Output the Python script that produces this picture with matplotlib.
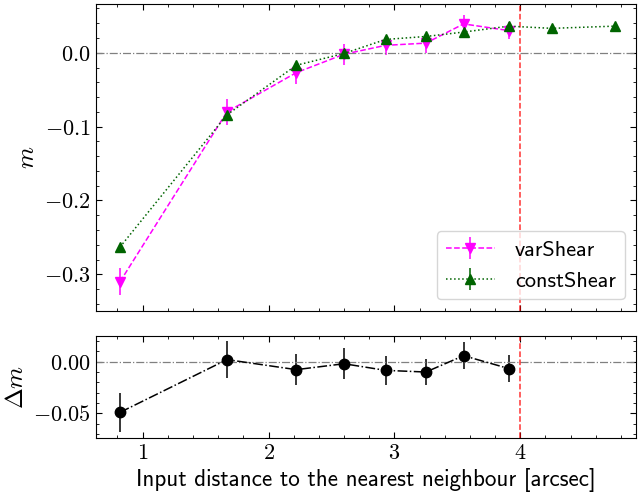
import matplotlib
matplotlib.use("Agg")
import matplotlib.pyplot as plt
from matplotlib.ticker import MultipleLocator, FormatStrFormatter
import numpy as np

plt.rcParams["mathtext.fontset"] = "cm"
plt.rcParams["font.size"] = 14

# nearest neighbour distance [arcsec]
dist_var = [0.82, 1.67, 2.22, 2.60, 2.93, 3.25, 3.55, 3.91]
m_var = [-0.310, -0.080, -0.027, -0.002, 0.010, 0.013, 0.039, 0.030]
m_var_err = [0.018, 0.018, 0.015, 0.014, 0.013, 0.013, 0.012, 0.012]

dist_const = [0.82, 1.67, 2.22, 2.60, 2.93, 3.25, 3.55, 3.91, 4.25, 4.75]
m_const = [-0.263, -0.084, -0.017, -0.001, 0.018, 0.022, 0.028, 0.036, 0.033, 0.036]
m_const_err = [0.004, 0.004, 0.004, 0.004, 0.004, 0.004, 0.004, 0.004, 0.004, 0.004]

dm = [-0.049, 0.002, -0.0077, -0.002, -0.0084, -0.010, 0.0058, -0.0067]
dm_err = [0.019, 0.018, 0.015, 0.015, 0.014, 0.013, 0.013, 0.0127]

fig, (ax1, ax2) = plt.subplots(2, 1, figsize=(6.38, 4.97), dpi=100, sharex=True,
                               gridspec_kw={"height_ratios": [3, 1], "hspace": 0.122,
                                            "left": 0.15, "right": 0.9964,
                                            "top": 0.992, "bottom": 0.1193})

ax1.errorbar(dist_var, m_var, yerr=m_var_err, color="magenta", ls="--", marker="v",
             ms=7.5, lw=1.1, label="varShear")
ax1.errorbar(dist_const, m_const, yerr=m_const_err, color="darkgreen", ls=":", marker="^",
             ms=7.5, lw=1.1, label="constShear")
ax1.axhline(0, color="grey", ls="-.", lw=0.9)
ax1.axvline(4, color="red", ls="--", lw=1.1, alpha=0.8)
ax1.set_ylabel(r"$m$", fontsize=18)
ax1.set_ylim(-0.349, 0.066)
ax1.yaxis.set_major_locator(MultipleLocator(0.1))
ax1.yaxis.set_minor_locator(MultipleLocator(0.02))
ax1.yaxis.set_major_formatter(FormatStrFormatter(r"$%.1f$"))
ax1.legend(loc="lower right", prop={"family": "cmss10", "size": 16},
           handlelength=2.2, handletextpad=0.9)

ax2.errorbar(dist_var, dm, yerr=dm_err, color="black", ls="-.", marker="o", ms=7.5, lw=1.1)
ax2.axhline(0, color="grey", ls="-.", lw=0.9)
ax2.axvline(4, color="red", ls="--", lw=1.1, alpha=0.8)
ax2.set_ylabel(r"$\Delta m$", fontsize=18)
ax2.set_ylim(-0.0735, 0.0253)
ax2.yaxis.set_major_locator(MultipleLocator(0.05))
ax2.yaxis.set_minor_locator(MultipleLocator(0.01))
ax2.yaxis.set_major_formatter(FormatStrFormatter(r"$%.2f$"))
ax2.set_xlim(0.627, 4.917)
ax2.xaxis.set_major_locator(MultipleLocator(1))
ax2.xaxis.set_minor_locator(MultipleLocator(0.2))
ax2.xaxis.set_major_formatter(FormatStrFormatter(r"$%d$"))
ax2.set_xlabel("Input distance to the nearest neighbour [arcsec]", family="cmss10", fontsize=16.6)

for ax in (ax1, ax2):
    ax.tick_params(which="both", direction="in", top=True, right=True, labelsize=16)
    ax.tick_params(which="major", length=4, width=0.8)
    ax.tick_params(which="minor", length=2.2, width=0.6)

plt.savefig("out.png")
